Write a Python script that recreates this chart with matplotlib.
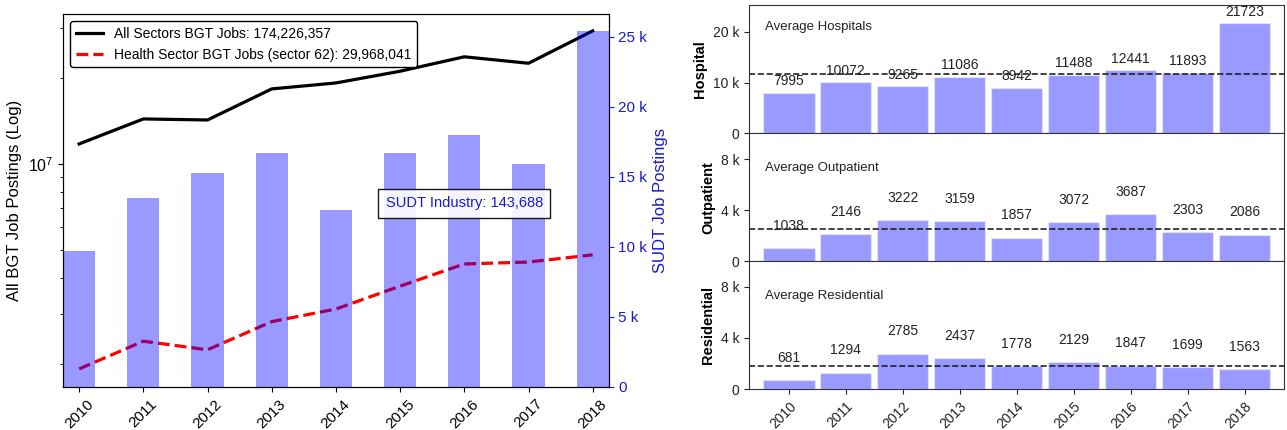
import matplotlib
matplotlib.use("Agg")
import matplotlib.pyplot as plt
from matplotlib.ticker import EngFormatter, NullFormatter
import numpy as np

plt.rcParams['font.family'] = ['Liberation Sans', 'DejaVu Sans']

years = ['2010', '2011', '2012', '2013', '2014', '2015', '2016', '2017', '2018']

# left panel: BGT postings (log) and SUDT bars
all_jobs = [11.75e6, 14.37e6, 14.25e6, 18.3e6, 19.2e6, 21.1e6, 23.7e6, 22.5e6, 29.2e6]
health_jobs = [1.92e6, 2.40e6, 2.24e6, 2.81e6, 3.11e6, 3.74e6, 4.47e6, 4.54e6, 4.81e6]
sudt_jobs = [9710, 13500, 15300, 16700, 12600, 16700, 18000, 15900, 25400]

# right panel: SUDT by setting
hospital = [7995, 10072, 9265, 11086, 8942, 11488, 12441, 11893, 21723]
outpatient = [1038, 2146, 3222, 3159, 1857, 3072, 3687, 2303, 2086]
residential = [681, 1294, 2785, 2437, 1778, 2129, 1847, 1699, 1563]

x = np.arange(len(years))
blue_txt = '#1a1acc'

fig = plt.figure(figsize=(12.87, 4.3), dpi=100)

ax = fig.add_axes([0.049, 0.1, 0.424, 0.867])
ax.plot(x, all_jobs, color='black', lw=2.3, label='All Sectors BGT Jobs: 174,226,357')
ax.plot(x, health_jobs, color='red', lw=2.3, ls='--', label='Health Sector BGT Jobs (sector 62): 29,968,041')
ax.set_yscale('log')
ax.set_ylim(1.66e6, 3.34e7)
ax.yaxis.set_minor_formatter(NullFormatter())
ax.set_xlim(-0.25, 8.25)
ax.set_xticks(x)
ax.set_xticklabels(years, rotation=45, fontsize=11)
ax.tick_params(axis='y', labelsize=11.5)
ax.set_ylabel('All BGT Job Postings (Log)', fontsize=12)
leg = ax.legend(loc='upper left', fontsize=10, framealpha=1, edgecolor='black')

ax2 = ax.twinx()
ax2.bar(x, sudt_jobs, width=0.5, color='blue', alpha=0.4)
ax2.set_ylim(0, 26600)
ax2.set_xlim(-0.25, 8.25)
ax2.yaxis.set_major_formatter(EngFormatter())
ax2.tick_params(axis='y', colors=blue_txt, labelsize=11)
ax2.set_ylabel('SUDT Job Postings', color=blue_txt, fontsize=12)
ax2.text(6.0, 13100, 'SUDT Industry: 143,688', color=blue_txt, fontsize=10.5,
         ha='center', va='center',
         bbox=dict(facecolor='white', alpha=0.9, edgecolor='black', boxstyle='square,pad=0.5'))

# right panel
panels = [
    (hospital, 'Hospital', 'Average Hospitals', 25300, [0, 10000, 20000], 2300, 0.83),
    (outpatient, 'Outpatient', 'Average Outpatient', 10050, [0, 4000, 8000], 1750, 0.73),
    (residential, 'Residential', 'Average Residential', 10000, [0, 4000, 8000], 1750, 0.73),
]
top, bottom = 0.988, 0.095
h = (top - bottom) / 3
for k, (vals, lab, title, ymax, ticks, off, ty) in enumerate(panels):
    a = fig.add_axes([0.582, top - (k + 1) * h, 0.416, h])
    a.bar(x, vals, width=0.9, color='blue', alpha=0.4, edgecolor='white', linewidth=1)
    a.axhline(np.mean(vals), color='#222222', ls='--', lw=1.2)
    for i, v in enumerate(vals):
        a.text(i, v + off, str(v), ha='center', va='center', fontsize=10, color='#222222')
    a.text(0.03, ty, title, transform=a.transAxes, fontsize=9.5, color='#222222', va='center')
    a.set_ylim(0, ymax)
    a.set_yticks(ticks)
    a.yaxis.set_major_formatter(EngFormatter())
    a.set_xlim(-0.7, 8.7)
    a.set_xticks(x)
    a.set_ylabel(lab, fontweight='bold', fontsize=10.5)
    a.tick_params(labelsize=10, colors='#222222')
    for s in a.spines.values():
        s.set_color('#333333')
    if k < 2:
        a.tick_params(axis='x', bottom=False, labelbottom=False)
    else:
        a.set_xticklabels(years, rotation=45, ha='right', rotation_mode='anchor', fontsize=10)

fig.savefig('out.png', dpi=100)
